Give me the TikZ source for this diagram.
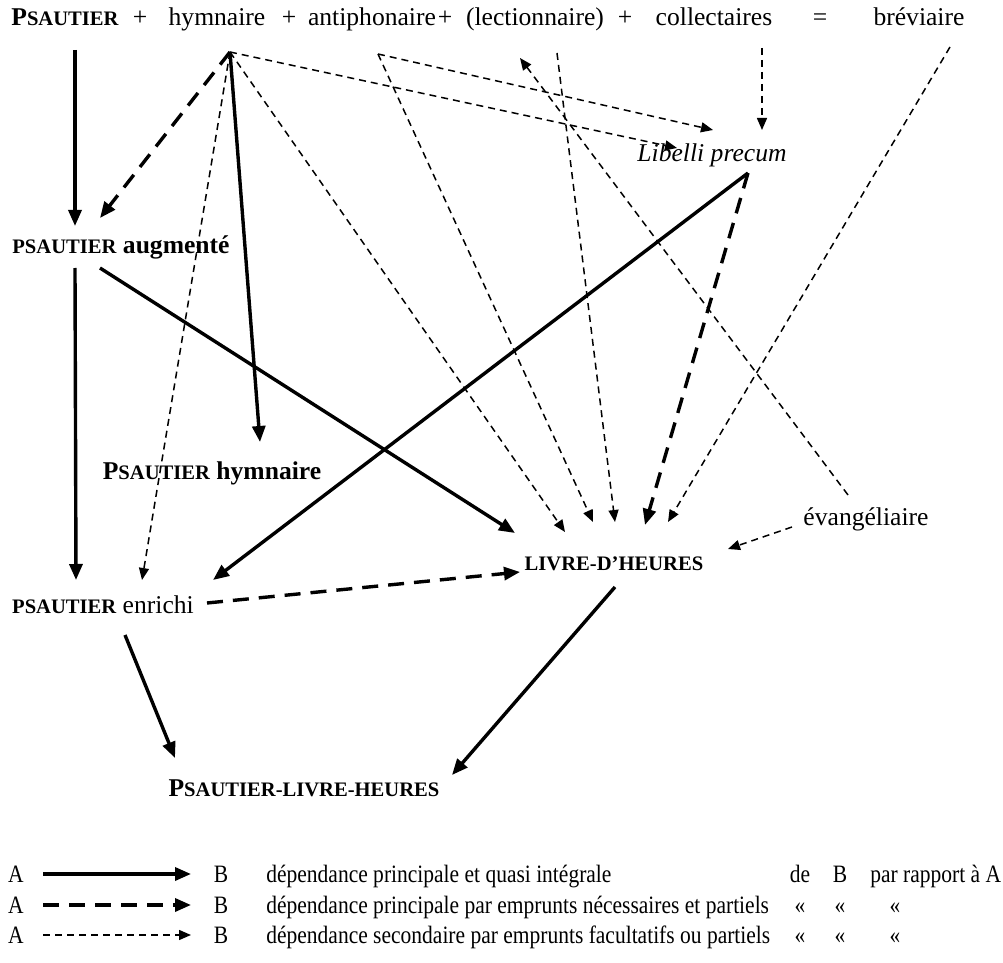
\documentclass[tikz,border=0pt]{standalone}
\usepackage{fontspec}
\setmainfont{Liberation Serif}
\newfontfamily\legendfont[FakeStretch=0.86]{Liberation Serif}
\usetikzlibrary{arrows.meta}
\newcommand{\capsm}[1]{{\fontsize{10.3}{12}\selectfont #1}}
\tikzset{
    every node/.style={font=\fontsize{12.8}{15}\selectfont, inner sep=0pt, anchor=base},
    boldlabel/.style={font=\fontsize{12.8}{15}\selectfont\bfseries},
    legtext/.style={font=\legendfont\fontsize{12.5}{15}\selectfont},
    mainarrow/.style={-{Triangle[length=8pt,width=6.5pt]}, line width=1.7pt},
    partarrow/.style={-{Triangle[length=8pt,width=6.5pt]}, line width=1.7pt, dash pattern=on 8pt off 5pt},
    optarrow/.style={-{Triangle[length=6pt,width=5pt]}, line width=0.75pt, dash pattern=on 3.5pt off 2.5pt},
}

\begin{document}
\begin{tikzpicture}[x=0.5pt, y=-0.5pt]
\useasboundingbox (0,0) rectangle (1003,963);

% top line: the books that make the breviary
\foreach \name/\xpos/\text in {ps/65/{\bfseries P\capsm{SAUTIER}}, plus1/140/+, hym/217/hymnaire,
    plus2/289/+, anti/372/antiphonaire, plus3/445/+, lect/535/{(lectionnaire)}, plus4/625/+,
    coll/714/collectaires, eq/820/=, brev/919/bréviaire}{
  \node (\name) at (\xpos,26) {\text};
}

% derived books
\node[boldlabel] (aug) at (121,254) {\capsm{PSAUTIER} augmenté};
\node (lib) at (712,162) {\itshape Libelli precum};
\node[boldlabel] (phym) at (212,479) {P\capsm{SAUTIER} hymnaire};
\node (enr) at (103,613) {{\bfseries\capsm{PSAUTIER}} enrichi};
\node (evang) at (866,525) {évangéliaire};
\node[boldlabel] (ldh) at (614,570) {\capsm{LIVRE-D’HEURES}};
\node[boldlabel] (plh) at (304,796) {P\capsm{SAUTIER-LIVRE-HEURES}};

% from the top line
\draw[mainarrow] ([shift={(10,24)}]ps.base) -- ([shift={(-46,-28)}]aug.base);
\draw[partarrow] ([shift={(13,26)}]hym.base) -- ([shift={(-21,-36)}]aug.base);
\draw[mainarrow] ([shift={(13,26)}]hym.base) -- ([shift={(48,-37)}]phym.base);
\draw[optarrow] ([shift={(13,26)}]hym.base) -- ([shift={(39,-33)}]enr.base);
\draw[optarrow] ([shift={(13,26)}]hym.base) -- ([shift={(-49,-38)}]ldh.base);
\draw[optarrow] ([shift={(13,26)}]hym.base) -- ([shift={(-35,-14)}]lib.base);
\draw[optarrow] ([shift={(6,28)}]anti.base) -- ([shift={(1,-32)}]lib.base);
\draw[optarrow] ([shift={(6,28)}]anti.base) -- ([shift={(-21,-48)}]ldh.base);
\draw[optarrow] ([shift={(22,27)}]lect.base) -- ([shift={(1,-48)}]ldh.base);
\draw[optarrow] ([shift={(48,22)}]coll.base) -- ([shift={(50,-32)}]lib.base);
\draw[optarrow] ([shift={(31,21)}]brev.base) -- ([shift={(54,-48)}]ldh.base);
\draw[optarrow] ([shift={(-18,-30)}]evang.base) -- ([shift={(-15,32)}]lect.base);
\draw[optarrow] ([shift={(-74,2)}]evang.base) -- ([shift={(114,-21)}]ldh.base);

% between the derived books
\draw[partarrow] ([shift={(36,11)}]lib.base) -- ([shift={(31,-45)}]ldh.base);
\draw[mainarrow] ([shift={(36,11)}]lib.base) -- ([shift={(110,-33)}]enr.base);
\draw[mainarrow] ([shift={(-46,14)}]aug.base) -- ([shift={(-27,-33)}]enr.base);
\draw[mainarrow] ([shift={(-21,14)}]aug.base) -- ([shift={(-99,-37)}]ldh.base);
\draw[partarrow] ([shift={(104,-10)}]enr.base) -- ([shift={(-94,2)}]ldh.base);
\draw[mainarrow] ([shift={(22,22)}]enr.base) -- ([shift={(-129,-38)}]plh.base);
\draw[mainarrow] ([shift={(1,17)}]ldh.base) -- ([shift={(148,-21)}]plh.base);

% legend
\foreach \row/\ypos/\style in {1/882/mainarrow, 2/913/partarrow, 3/943/optarrow}{
  \node[legtext] (legA\row) at (16,\ypos) {A};
  \node[legtext] (legB\row) at (221,\ypos) {B};
  \draw[\style] ([shift={(27,-8)}]legA\row.base) -- ([shift={(-30,-8)}]legB\row.base);
}
\node[legtext, anchor=base west] (leg1) at (266,882) {dépendance principale et quasi intégrale};
\node[legtext, anchor=base west] (leg2) at (266,913) {dépendance principale par emprunts nécessaires et partiels};
\node[legtext, anchor=base west] (leg3) at (266,943) {dépendance secondaire par emprunts facultatifs ou partiels};
\node[legtext] (de) at (800,882) {de};
\node[legtext] (deB) at (840,882) {B};
\node[legtext, anchor=base west] (rapport) at (870,882) {par rapport à A};
\foreach \row/\ypos in {2/913, 3/943}{
  \foreach \col/\xpos in {1/800, 2/840, 3/895}{
    \node[legtext] (idem\row\col) at (\xpos,\ypos) {«};
  }
}
\end{tikzpicture}
\end{document}
